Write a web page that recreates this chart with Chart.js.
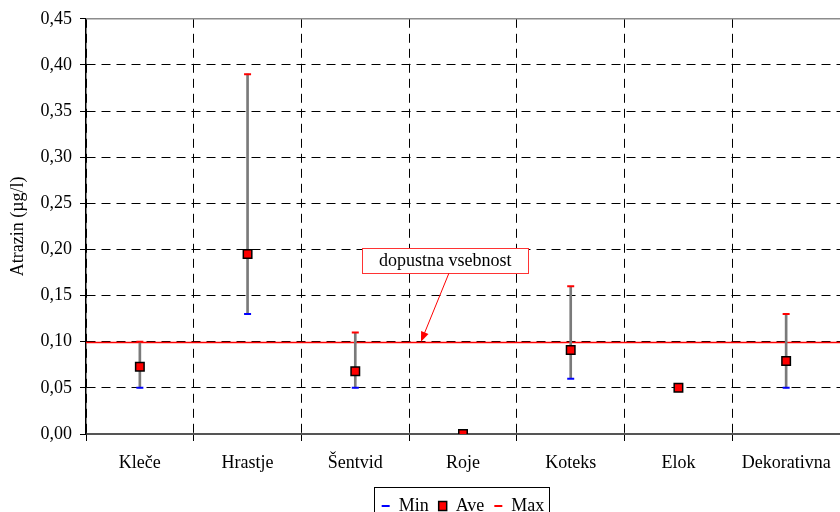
<!DOCTYPE html>
<html>
<head>
<meta charset="utf-8">
<script src="https://cdn.jsdelivr.net/npm/chart.js@4/dist/chart.umd.min.js"></script>
<style>
  html, body { margin: 0; padding: 0; background: #fff; }
  #wrap { width: 840px; height: 512px; }
</style>
</head>
<body>
<div id="wrap"><canvas id="chart" width="840" height="512"></canvas></div>
<script>
/* ── Data ─────────────────────────────────────────────── */
const sites   = ['Kleče', 'Hrastje', 'Šentvid', 'Roje', 'Koteks', 'Elok', 'Dekorativna'];
const minVals = [0.05, 0.13, 0.05, 0.00, 0.06, 0.05, 0.05];
const aveVals = [0.073, 0.195, 0.068, 0.00, 0.091, 0.05, 0.079];
const maxVals = [0.10, 0.39, 0.11, 0.00, 0.16, 0.05, 0.13];
const limitValue = 0.10;
const limitLabel = 'dopustna vsebnost';
const yMin = 0, yMax = 0.45, yStep = 0.05;

const FONT = 'Liberation Serif, Times New Roman, serif';

/* ── Plugins: limit line, frame, callout, legend box ──── */
const extras = {
    id: 'extras',
    beforeDatasetsDraw(chart) {
        const { ctx, chartArea: a, scales: { y } } = chart;
        ctx.save();
        // top frame of the plot
        ctx.strokeStyle = '#8c8c8c';
        ctx.lineWidth = 1.5;
        ctx.beginPath();
        ctx.moveTo(a.left, a.top);
        ctx.lineTo(a.right, a.top);
        ctx.stroke();
        // limit line
        const ly = Math.round(y.getPixelForValue(limitValue)) + 0.5;
        ctx.strokeStyle = '#ff0000';
        ctx.lineWidth = 1.5;
        ctx.beginPath();
        ctx.moveTo(a.left, ly);
        ctx.lineTo(a.right, ly);
        ctx.stroke();
        ctx.restore();
    },
    afterDraw(chart) {
        const { ctx, scales: { x, y } } = chart;
        ctx.save();
        // callout box
        const cx = x.getPixelForValue(2.835);
        const cy = y.getPixelForValue(0.188);
        ctx.font = '18px ' + FONT;
        const w = 166, h = 25;
        ctx.fillStyle = '#fff';
        ctx.fillRect(cx - w / 2, cy - h / 2, w, h);
        ctx.strokeStyle = '#ff3333';
        ctx.lineWidth = 1;
        ctx.strokeRect(Math.round(cx - w / 2) + 0.5, Math.round(cy - h / 2) + 0.5, w, h);
        ctx.fillStyle = '#000';
        ctx.textAlign = 'center';
        ctx.textBaseline = 'middle';
        ctx.fillText(limitLabel, cx, cy + 1);
        // arrow
        const x0 = x.getPixelForValue(2.87), y0 = cy + h / 2;
        const x1 = x.getPixelForValue(2.61), y1 = y.getPixelForValue(limitValue);
        const ang = Math.atan2(y1 - y0, x1 - x0);
        ctx.strokeStyle = '#ff0000';
        ctx.fillStyle = '#ff0000';
        ctx.lineWidth = 1;
        ctx.beginPath();
        ctx.moveTo(x0, y0);
        ctx.lineTo(x1 - 8 * Math.cos(ang), y1 - 8 * Math.sin(ang));
        ctx.stroke();
        ctx.beginPath();
        ctx.moveTo(x1, y1);
        ctx.lineTo(x1 - 10 * Math.cos(ang) + 4 * Math.sin(ang), y1 - 10 * Math.sin(ang) - 4 * Math.cos(ang));
        ctx.lineTo(x1 - 10 * Math.cos(ang) - 4 * Math.sin(ang), y1 - 10 * Math.sin(ang) + 4 * Math.cos(ang));
        ctx.closePath();
        ctx.fill();
        // legend frame
        const boxes = chart.legend.legendHitBoxes;
        if (boxes && boxes.length) {
            const first = boxes[0], last = boxes[boxes.length - 1];
            const lx = Math.round(first.left - 8) + 0.5;
            const rx = Math.round(last.left + last.width + 5) + 0.5;
            const ty = Math.round(first.top - 10) + 0.5;
            ctx.strokeStyle = '#000';
            ctx.lineWidth = 1;
            ctx.strokeRect(lx, ty, rx - lx, 60);
        }
        ctx.restore();
    }
};

/* ── Chart.js ─────────────────────────────────────────── */
const ctx = document.getElementById('chart').getContext('2d');

new Chart(ctx, {
    data: {
        labels: sites,
        datasets: [
            {
                type: 'bar',
                label: 'range',
                data: minVals.map((v, i) => [v, maxVals[i]]),
                backgroundColor: '#7a7a7a',
                borderWidth: 0,
                barThickness: 2,
                order: 5,
            },
            {
                type: 'line',
                label: 'Min',
                data: minVals,
                showLine: false,
                pointStyle: 'line',
                pointRadius: 3.5,
                pointBorderWidth: 2,
                pointBorderColor: '#0000ff',
                pointBackgroundColor: '#0000ff',
                order: 2,
            },
            {
                type: 'line',
                label: 'Ave',
                data: aveVals,
                showLine: false,
                pointStyle: 'rect',
                pointRadius: 6,
                pointBorderWidth: 1.5,
                pointBorderColor: '#000',
                pointBackgroundColor: '#ff0000',
                order: 1,
            },
            {
                type: 'line',
                label: 'Max',
                data: maxVals,
                showLine: false,
                pointStyle: 'line',
                pointRadius: 3.5,
                pointBorderWidth: 2,
                pointBorderColor: '#ff0000',
                pointBackgroundColor: '#ff0000',
                order: 2,
            }
        ]
    },
    options: {
        responsive: false,
        animation: false,
        devicePixelRatio: 1,
        layout: {
            autoPadding: false,
            padding: { top: 8, right: 0, bottom: -13, left: 0 }
        },
        plugins: {
            tooltip: { enabled: false },
            legend: {
                position: 'bottom',
                fullSize: false,
                labels: {
                    usePointStyle: true,
                    pointStyleWidth: 8,
                    boxHeight: 9,
                    boxWidth: 8,
                    padding: 10,
                    color: '#000',
                    font: { family: FONT, size: 18 },
                    filter: item => item.text !== 'range',
                    sort: (a, b) => a.datasetIndex - b.datasetIndex
                }
            }
        },
        scales: {
            x: {
                offset: true,
                grid: {
                    offset: true,
                    color: '#000',
                    lineWidth: 1,
                    tickLength: 7,
                    tickBorderDash: [],
                    tickColor: '#000'
                },
                border: { display: true, color: '#555', width: 2, dash: [9, 6] },
                ticks: {
                    color: '#000',
                    padding: 11,
                    maxRotation: 0,
                    font: { family: FONT, size: 18 }
                },
                afterFit: s => {
                    s.height = 53;
                    s.paddingLeft = 0;
                    s.paddingRight = 0;
                }
            },
            y: {
                min: yMin,
                max: yMax,
                grid: {
                    color: '#000',
                    lineWidth: 1,
                    tickLength: 6,
                    tickBorderDash: [],
                    tickColor: '#000'
                },
                border: { display: true, color: '#000', width: 1.5, dash: [9, 6] },
                ticks: {
                    stepSize: yStep,
                    color: '#000',
                    padding: 8,
                    font: { family: FONT, size: 18 },
                    callback: v => Number(v).toFixed(2).replace('.', ',')
                },
                title: {
                    display: true,
                    text: 'Atrazin (µg/l)',
                    color: '#000',
                    padding: { top: 7, bottom: 0 },
                    font: { family: FONT, size: 18 }
                },
                afterFit: s => { s.width = 86; }
            }
        }
    },
    plugins: [extras]
});
</script>
</body>
</html>
